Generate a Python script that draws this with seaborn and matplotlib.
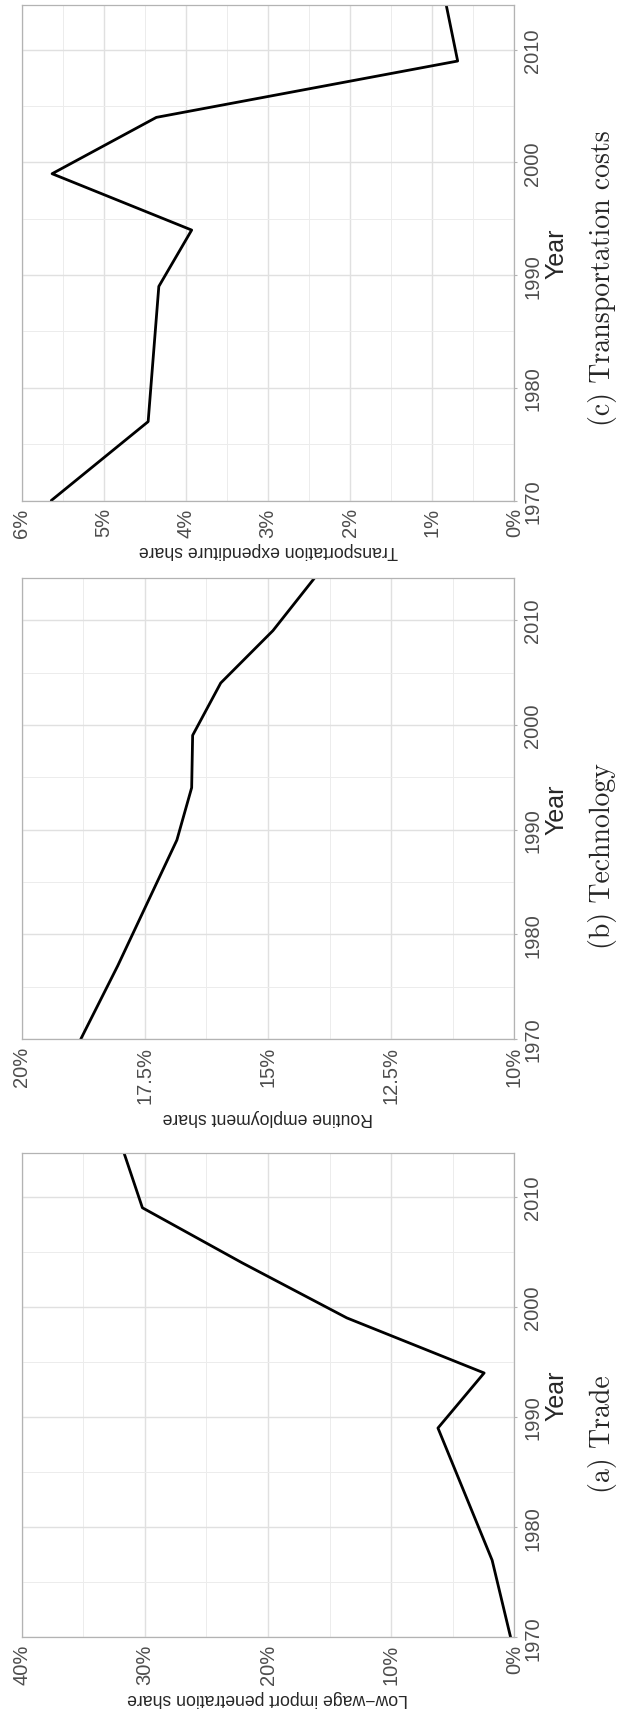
import matplotlib
matplotlib.use('Agg')
import matplotlib.pyplot as plt
from matplotlib.ticker import MultipleLocator, FuncFormatter
import pandas as pd
import seaborn as sns

# -------------------------
# Data
# -------------------------
years = [1970, 1977, 1989, 1994, 1999, 2004, 2009, 2014]
trade_share = [0.3, 1.8, 6.2, 2.45, 13.6, 22.1, 30.2, 31.7]
routine_share = [18.8, 18.05, 16.85, 16.55, 16.53, 15.96, 14.9, 14.06]
transport_share = [5.64, 4.46, 4.33, 3.93, 5.63, 4.36, 0.69, 0.83]

share_labels = ["Low\u2212wage import penetration share",
                "Routine employment share",
                "Transportation expenditure share"]
captions = ["(a) Trade", "(b) Technology", "(c) Transportation costs"]

# -------------------------
# Style
# -------------------------
sns.set_theme(style="white")
plt.rcParams['font.family'] = ['Liberation Sans', 'DejaVu Sans']

fig = plt.figure(figsize=(6.24, 17.15), dpi=100)


def draw_panel(ax, share, xlabel, lo, hi, major, minor):
    df = pd.DataFrame({"Year": years, "share": share})
    sns.lineplot(data=df, x="share", y="Year", orient="y", sort=False,
                 color="black", linewidth=2.0, ax=ax)
    ax.set_xlim(hi, lo)
    ax.set_ylim(1970, 2014)
    ax.xaxis.set_major_locator(MultipleLocator(major))
    ax.xaxis.set_minor_locator(MultipleLocator(minor))
    ax.yaxis.set_major_locator(MultipleLocator(10))
    ax.yaxis.set_minor_locator(MultipleLocator(5))
    ax.xaxis.set_major_formatter(FuncFormatter(lambda v, p: f"{v:g}%"))
    ax.set_axisbelow(True)
    ax.grid(which='major', color='#e0e0e0', linewidth=1.0)
    ax.grid(which='minor', color='#ececec', linewidth=0.7)
    ax.yaxis.tick_right()
    ax.yaxis.set_label_position('right')
    ax.tick_params(which='major', length=2.4, width=0.8, color='#b3b3b3',
                   labelcolor='#4d4d4d', labelsize=14.5)
    ax.tick_params(which='minor', length=0)
    ax.tick_params(axis='x', labelrotation=90, pad=2.5)
    ax.tick_params(axis='y', labelrotation=90, pad=4)
    for t in ax.yaxis.get_major_ticks():
        t.label2.set_va('center')
    for s in ax.spines.values():
        s.set_color('#b3b3b3')
        s.set_linewidth(0.9)
    ax.set_xlabel(xlabel, rotation=180, fontsize=12.7, labelpad=3.5)
    ax.set_ylabel("Year", rotation=90, fontsize=18, labelpad=1.5)


# panels stacked bottom (a) to top (c), the page is turned sideways
ax_a = fig.add_axes([0.0348, 0.04472, 0.7894, 0.28257])
ax_b = fig.add_axes([0.0348, 0.39359, 0.7894, 0.26863])
ax_c = fig.add_axes([0.0348, 0.70758, 0.7894, 0.2891])

draw_panel(ax_a, trade_share, share_labels[0], 0, 40, 10, 5)
draw_panel(ax_b, routine_share, share_labels[1], 10, 20, 2.5, 1.25)
draw_panel(ax_c, transport_share, share_labels[2], 0, 6, 1, 0.5)

for y, cap in zip([0.1638, 0.5011, 0.8379], captions):
    fig.text(0.966, y, cap, rotation=90, family=['cmr10', 'DejaVu Serif'],
             fontsize=20, ha='center', va='center')

fig.savefig("out.png", dpi=100)
plt.close()
